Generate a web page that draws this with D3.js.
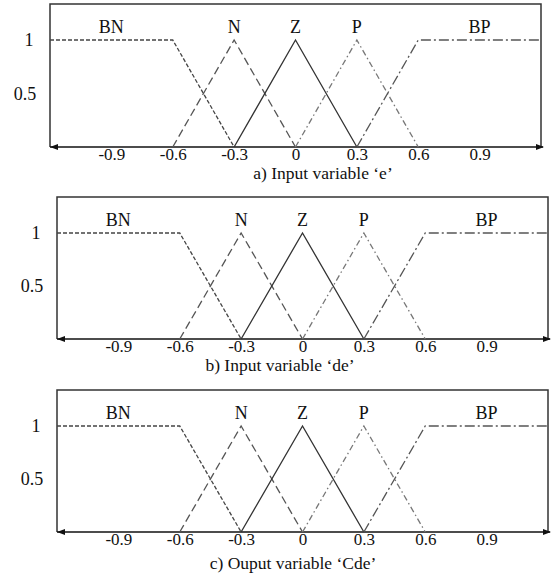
<!DOCTYPE html>
<html>
<head>
<meta charset="utf-8">
<script src="https://cdn.jsdelivr.net/npm/d3@7"></script>
<style>
  body { margin: 0; background: #fff; }
  text { font-family: "Liberation Serif", "Times New Roman", serif; fill: #111; }
</style>
</head>
<body>
<div id="chart"></div>
<script>
// membership functions, same for all three variables
var setNames = ["BN", "N", "Z", "P", "BP"];
var setX = [
    [-1.2, -0.6, -0.3],
    [-0.6, -0.3, 0],
    [-0.3, 0, 0.3],
    [0, 0.3, 0.6],
    [0.3, 0.6, 1.2]
];
var setY = [
    [1, 1, 0],
    [0, 1, 0],
    [0, 1, 0],
    [0, 1, 0],
    [0, 1, 1]
];
var xTicks = [-0.9, -0.6, -0.3, 0, 0.3, 0.6, 0.9];
var yTicks = [0.5, 1];
var captions = ["a) Input variable \u2018e\u2019", "b) Input variable \u2018de\u2019", "c) Ouput variable \u2018Cde\u2019"];

var width = 551, height = 580;

// panel layout (pixels)
var panels = [
    { left: 50, right: 541, top: 4, one: 40, axis: 147, capX: 323, capY: 179 },
    { left: 57, right: 548, top: 197, one: 233, axis: 339, capX: 280, capY: 371 },
    { left: 57, right: 548, top: 390, one: 426, axis: 532, capX: 293, capY: 569 }
];

var dashes = ["4,2", "8,4", null, "6,3,1.5,3", "10,3,2,3"];
var strokes = ["#444", "#555", "#333", "#777", "#555"];

var svg = d3.select("#chart").append("svg")
    .attr("width", width)
    .attr("height", height);

panels.forEach(function (p, i) {
    var g = svg.append("g");

    var x = d3.scaleLinear().domain([-1.2, 1.2]).range([p.left, p.right]);
    var y = d3.scaleLinear().domain([0, 1]).range([p.axis, p.one]);

    // frame: left, top, right
    g.append("path")
        .attr("d", `M${p.left},${p.axis}V${p.top}H${p.right}V${p.axis}`)
        .attr("fill", "none")
        .attr("stroke", "#333")
        .attr("stroke-width", 1.5);

    // x axis line with arrows at both ends
    g.append("line")
        .attr("x1", p.left).attr("x2", p.right + 2)
        .attr("y1", p.axis).attr("y2", p.axis)
        .attr("stroke", "#111")
        .attr("stroke-width", 1.5);
    g.append("path")
        .attr("d", `M${p.left},${p.axis}l8,-3v6z`)
        .attr("fill", "#111");
    g.append("path")
        .attr("d", `M${p.right + 3},${p.axis}l-8,-3v6z`)
        .attr("fill", "#111");

    var xAxis = d3.axisBottom(x)
        .tickValues(xTicks)
        .tickSize(0)
        .tickPadding(1)
        .tickFormat(d => String(d));

    var ax = g.append("g")
        .attr("transform", `translate(0,${p.axis})`)
        .call(xAxis);
    ax.select(".domain").remove();
    ax.selectAll("text")
        .attr("font-size", 17)
        .attr("font-family", null)
        .style("fill", "#111");

    // y labels
    g.selectAll(".ylab")
        .data(yTicks)
        .enter()
        .append("text")
        .attr("class", "ylab")
        .attr("x", d => d === 1 ? p.left - 21 : p.left - 25)
        .attr("y", d => y(d) + 6)
        .attr("text-anchor", "middle")
        .attr("font-size", 18)
        .text(d => String(d));

    // membership functions
    var line = d3.line()
        .x(d => x(d[0]))
        .y(d => y(d[1]));

    setNames.forEach(function (name, k) {
        var pts = d3.zip(setX[k], setY[k]);
        g.append("path")
            .datum(pts)
            .attr("d", line)
            .attr("fill", "none")
            .attr("stroke", strokes[k])
            .attr("stroke-width", 1.3)
            .attr("stroke-dasharray", dashes[k]);

        // label over the top of the set
        var top = pts.filter(d => d[1] === 1).map(d => d[0]);
        g.append("text")
            .attr("x", x(d3.mean(top)))
            .attr("y", y(1) - 7)
            .attr("text-anchor", "middle")
            .attr("font-size", 18)
            .text(name);
    });

    g.append("text")
        .attr("x", p.capX)
        .attr("y", p.capY)
        .attr("text-anchor", "middle")
        .attr("font-size", 17.5)
        .text(captions[i]);
});
</script>
</body>
</html>
